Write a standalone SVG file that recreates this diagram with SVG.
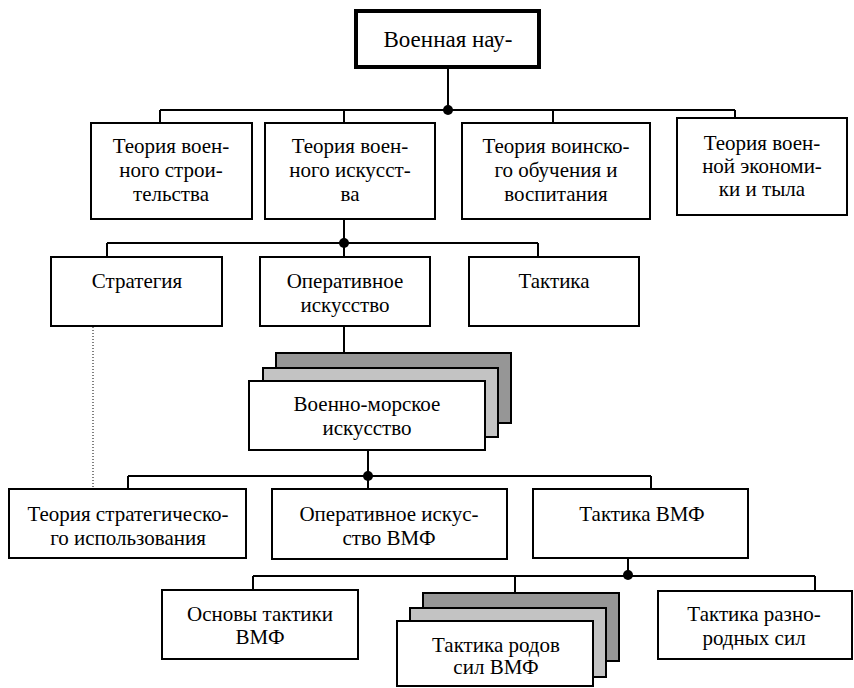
<svg xmlns="http://www.w3.org/2000/svg" width="854" height="688" viewBox="0 0 854 688">
  <style>
    .box { fill: #ffffff; stroke: #000000; stroke-width: 2; }
    .root { fill: #ffffff; stroke: #000000; stroke-width: 4; }
    .dark { fill: #969696; stroke: #000000; stroke-width: 2; }
    .light { fill: #c3c3c3; stroke: #000000; stroke-width: 2; }
    text { font-family: "Liberation Serif", "Times New Roman", serif; font-size: 21px; fill: #000000; text-anchor: middle; }
    text.big { font-size: 23px; }
    .wire { fill: none; stroke: #000000; stroke-width: 2; }
    .dotted { fill: none; stroke: #000000; stroke-width: 1; stroke-dasharray: 1 2; }
    .joint { fill: #000000; }
  </style>
  <rect width="854" height="688" fill="#ffffff"/>

  <!-- connectors -->
  <g id="connectors">
    <!-- level 1 bus -->
    <path class="wire" d="M448,67 V110 M160,110 H735 M160,110 V123 M344,110 V123 M553,110 V123 M735,110 V118"/>
    <circle class="joint" cx="448" cy="110" r="5"/>
    <!-- level 2 bus -->
    <path class="wire" d="M344,219 V243 M107,243 H538 M107,243 V257 M344,243 V257 M538,243 V257"/>
    <circle class="joint" cx="344" cy="243" r="5"/>
    <!-- operational art to naval art -->
    <path class="wire" d="M344,326 V353"/>
    <!-- strategy to strategic-use theory -->
    <path class="dotted" d="M93,327 V489"/>
    <!-- level 3 bus -->
    <path class="wire" d="M368,450 V476 M128,476 H651 M128,476 V489 M368,476 V489 M651,476 V489"/>
    <circle class="joint" cx="368" cy="476" r="5"/>
    <!-- level 4 bus -->
    <path class="wire" d="M628,558 V576 M253,576 H815 M253,576 V590 M515,576 V593 M815,576 V591"/>
    <circle class="joint" cx="628" cy="575" r="5"/>
  </g>

  <g id="military-science">
    <rect class="root" x="356" y="11" width="183" height="56"/>
    <text class="big" x="448" y="47">Военная нау-</text>
  </g>

  <g id="military-construction">
    <rect class="box" x="91" y="123" width="161" height="96"/>
    <text x="171" y="153">Теория воен-</text>
    <text x="171" y="177">ного строи-</text>
    <text x="171" y="201">тельства</text>
  </g>

  <g id="military-art">
    <rect class="box" x="265" y="123" width="170" height="96"/>
    <text x="350" y="153">Теория воен-</text>
    <text x="350" y="177">ного искусст-</text>
    <text x="350" y="201">ва</text>
  </g>

  <g id="training-education">
    <rect class="box" x="462" y="123" width="188" height="96"/>
    <text x="556" y="153">Теория воинско-</text>
    <text x="556" y="177">го обучения и</text>
    <text x="556" y="201">воспитания</text>
  </g>

  <g id="war-economy">
    <rect class="box" x="677" y="118" width="170" height="97"/>
    <text x="762" y="150">Теория воен-</text>
    <text x="762" y="173">ной экономи-</text>
    <text x="762" y="196">ки и тыла</text>
  </g>

  <g id="strategy">
    <rect class="box" x="51" y="257" width="171" height="69"/>
    <text x="137" y="288">Стратегия</text>
  </g>

  <g id="operational-art">
    <rect class="box" x="260" y="257" width="170" height="69"/>
    <text x="345" y="288">Оперативное</text>
    <text x="345" y="312">искусство</text>
  </g>

  <g id="tactics">
    <rect class="box" x="469" y="257" width="170" height="69"/>
    <text x="554" y="288">Тактика</text>
  </g>

  <g id="naval-art">
    <rect class="dark" x="276" y="353" width="235" height="70"/>
    <rect class="light" x="263" y="368" width="235" height="69"/>
    <rect class="box" x="249" y="381" width="236" height="69"/>
    <text x="367" y="411">Военно-морское</text>
    <text x="367" y="435">искусство</text>
  </g>

  <g id="strategic-use">
    <rect class="box" x="9" y="489" width="237" height="69"/>
    <text x="128" y="521">Теория стратегическо-</text>
    <text x="128" y="545">го использования</text>
  </g>

  <g id="naval-operational-art">
    <rect class="box" x="272" y="489" width="235" height="70"/>
    <text x="389" y="521">Оперативное искус-</text>
    <text x="389" y="545">ство ВМФ</text>
  </g>

  <g id="naval-tactics">
    <rect class="box" x="533" y="489" width="215" height="69"/>
    <text x="642" y="521">Тактика ВМФ</text>
  </g>

  <g id="tactics-basics">
    <rect class="box" x="162" y="590" width="196" height="69"/>
    <text x="260" y="621">Основы тактики</text>
    <text x="260" y="644">ВМФ</text>
  </g>

  <g id="branch-tactics">
    <rect class="dark" x="423" y="593" width="196" height="68"/>
    <rect class="light" x="410" y="608" width="196" height="69"/>
    <rect class="box" x="397" y="621" width="196" height="65"/>
    <text x="496" y="652">Тактика родов</text>
    <text x="496" y="674">сил ВМФ</text>
  </g>

  <g id="combined-forces-tactics">
    <rect class="box" x="658" y="591" width="194" height="68"/>
    <text x="754" y="621">Тактика разно-</text>
    <text x="754" y="645">родных сил</text>
  </g>
</svg>
